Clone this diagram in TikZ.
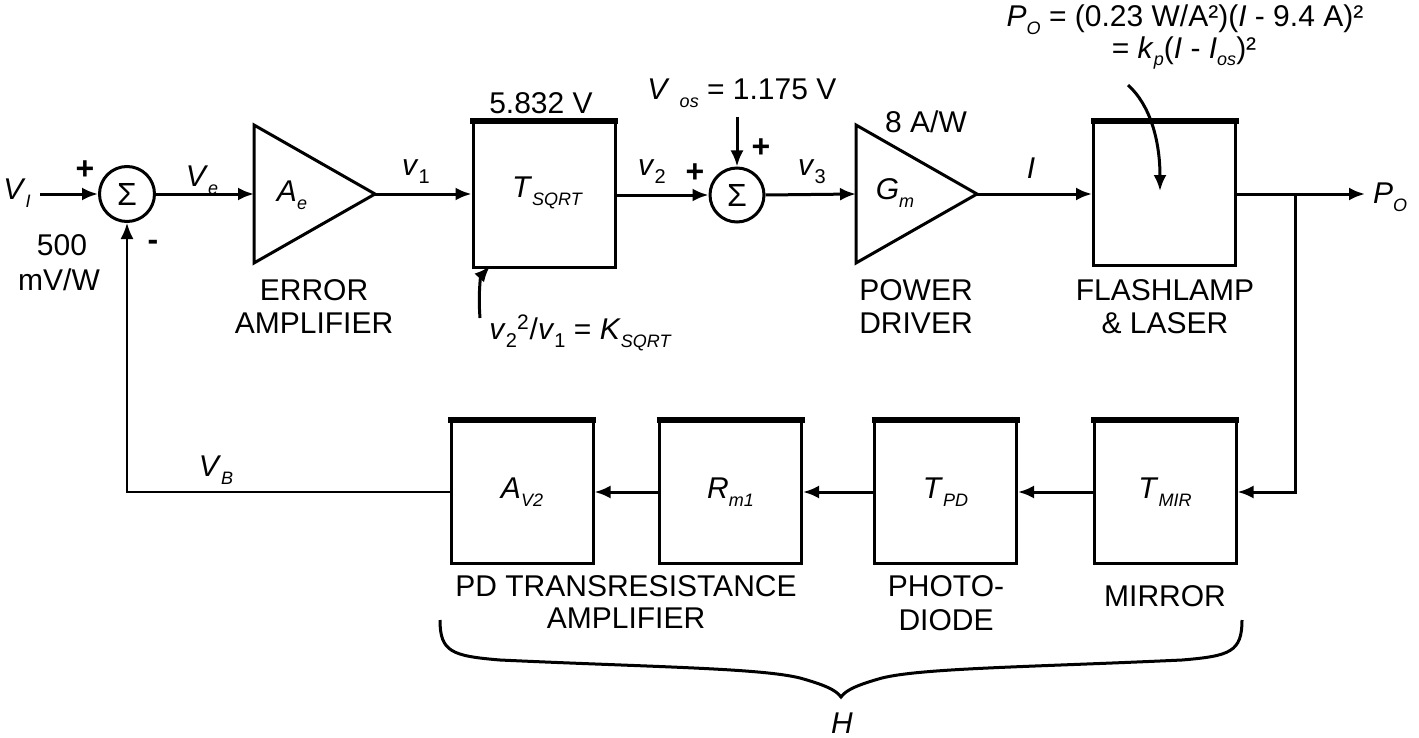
\documentclass[tikz,border=0pt]{standalone}
\usepackage{fontspec}
\setmainfont{Liberation Sans}
\usetikzlibrary{arrows.meta,calc}
\newcommand{\sbs}[1]{\raisebox{-0.5ex}{\fontsize{9}{9}\selectfont\itshape #1}}
\newcommand{\sbr}[1]{\raisebox{-0.5ex}{\fontsize{10}{10}\selectfont #1}}
\newcommand{\iv}[1]{\textit{#1}}
\newcommand{\topedge}[1]{\draw[topline] (#1.north west) -- (#1.north east);}
\begin{document}
\begin{tikzpicture}[x=0.5pt,y=-0.5pt,
  every node/.style={font=\fontsize{15}{18}\selectfont, inner sep=0pt},
  conn/.style={line width=1.5pt},
  thinconn/.style={line width=1pt},
  arr/.style={-{Latex[length=8pt,width=6.5pt]}},
  blockbox/.style={draw, line width=1.5pt, minimum width=71pt, minimum height=71pt},
  topline/.style={line width=3pt, shorten <=-0.75pt, shorten >=-0.75pt},
  sumc/.style={draw, circle, line width=1.5pt, minimum size=27.5pt, font=\fontsize{16}{16}\selectfont},
  amp/.style={line width=1.5pt, line join=miter},
  sign/.style={font=\fontsize{16}{16}\selectfont\bfseries},
  lab/.style={align=center}]
\useasboundingbox (0,0) rectangle (1419,738);

% ---------- forward path ----------
\node (vi) at (17,193) {\iv{V}\sbs{I}};
\coordinate (viend) at (40,194);
\node[sumc] (s1) at (127,194) {Σ};
\node[sign] (s1p) at (85,170) {+};
\node[sign] (s1m) at (153,245) {-};
\node (k500) at (62,245) {500};
\node (kmvw) at (59,280) {mV/W};

% error amplifier
\coordinate (eat) at (254,125);
\coordinate (eab) at (254,263);
\coordinate (eaout) at (375,194);
\coordinate (eain) at (254,194);
\draw[amp] (eat) -- (eaout) -- (eab) -- cycle;
\node (ael) at (292,195) {\iv{A}\sbs{e}};
\node (ve) at (202,180) {\iv{V}\sbs{e}};
\node (eal1) at (314,290) {ERROR};
\node (eal2) at (314,323) {AMPLIFIER};

% sqrt block
\node[blockbox, minimum height=72pt] (tsq) at (544,195) {};
\topedge{tsq}
\node (tsql) at (547,193) {\iv{T}\sbs{SQRT}};
\node (v1) at (416,172) {\iv{v}\sbr{1}};
\node (k5832) at (541,103) {5.832 V};
\node (ksq) at (580,333) {\iv{v}\sbr{2}\textsuperscript{2}/\iv{v}\sbr{1} = \iv{K}\sbs{SQRT}};
\coordinate (ksqa) at (480,318);
\coordinate (ksqb) at (490,266);

% second summer
\node[sumc, minimum size=27pt] (s2) at (737,195) {Σ};
\node (v2) at (652,172) {\iv{v}\sbr{2}};
\node[sign] (s2p) at (695,173) {+};
\node[sign] (s2q) at (761,148) {+};
\node[anchor=west] (vos) at (647,93) {\iv{V}\,\,\sbs{os} = 1.175 V};
\coordinate (vosa) at (737,117);
\node (v3) at (812,172) {\iv{v}\sbr{3}};

% power driver
\coordinate (gmt) at (856,125);
\coordinate (gmb) at (856,263);
\coordinate (gmout) at (977,194);
\coordinate (gmin) at (856,194);
\draw[amp] (gmt) -- (gmout) -- (gmb) -- cycle;
\node (gml) at (895,193) {\iv{G}\sbs{m}};
\node (k8aw) at (926,122) {8 A/W};
\node (pdl1) at (916,290) {POWER};
\node (pdl2) at (916,323) {DRIVER};
\node (il) at (1031,168) {\iv{I}};

% flashlamp & laser
\node[blockbox] (las) at (1164.5,194) {};
\topedge{las}
\node (lasl1) at (1165,290) {FLASHLAMP};
\node (lasl2) at (1165,323) {\& LASER};
\node (pof1) at (1185,20) {\iv{P}\sbs{O} = (0.23 W/A²)(\iv{I} - 9.4 A)²};
\node (pof2) at (1184,53) {= \iv{k}\sbs{p}(\iv{I} - \iv{I}\sbs{os})²};
\coordinate (pfa) at (1128,85);
\coordinate (pfb) at (1160,191);

\coordinate (jn) at (1295,194);
\coordinate (po) at (1365,194);
\node (pol) at (1390,197) {\iv{P}\sbs{O}};

% ---------- feedback path ----------
\node[blockbox] (mir) at (1165,492) {};
\topedge{mir}
\node (mirl) at (1165,492) {\iv{T}\sbs{MIR}};
\node (mirt) at (1165,596) {MIRROR};

\node[blockbox] (tpd) at (945.5,492) {};
\topedge{tpd}
\node (tpdl) at (945.5,492) {\iv{T}\sbs{PD}};
\node (tpdt1) at (946,586) {PHOTO-};
\node (tpdt2) at (946,620) {DIODE};

\node[blockbox] (rm) at (730.5,492) {};
\topedge{rm}
\node (rml) at (730.5,492) {\iv{R}\sbs{m1}};

\node[blockbox] (av) at (522,492) {};
\topedge{av}
\node (avl) at (522,492) {\iv{A}\sbs{V2}};
\node (avt1) at (626,586) {PD TRANSRESISTANCE};
\node (avt2) at (626,618) {AMPLIFIER};

\node (vb) at (216,470) {\iv{V}\sbs{B}};
\node (hl) at (842,723) {\iv{H}};

% ---------- connectors ----------
\draw[conn,arr] (viend) -- (s1.west);
\draw[conn,arr] (s1.east) -- (eain);
\draw[conn,arr] (eaout) -- (tsq.west |- eaout);
\draw[conn,arr] (tsq.east |- s2) -- (s2.west);
\draw[conn,arr] (vosa) -- (s2.north);
\draw[conn,arr] (s2.east) -- (gmin);
\draw[conn,arr] (gmout) -- (las.west);
\draw[conn,arr] (las.east) -- (po);
\draw[conn,arr] (jn) |- (mir.east);
\draw[conn,arr] (mir.west) -- (tpd.east);
\draw[conn,arr] (tpd.west) -- (rm.east);
\draw[conn,arr] (rm.west) -- (av.east);
\draw[thinconn,arr] (av.west) -| (s1.south);
\draw[conn,arr] (ksqa) .. controls (478,292) and (481,276) .. (ksqb);
\draw[conn,arr] (pfa) .. controls (1150,105) and (1160,140) .. (pfb);

% ---------- brace ----------
\coordinate (brl) at (440,620);
\coordinate (brt) at (841,697);
\coordinate (brr) at (1242,620);
\draw[line width=1.5pt] (brl) .. controls (440,652) and (452,656) .. (500,660)
  .. controls (650,667) and (760,668) .. (800,678)
  .. controls (825,685) and (836,690) .. (brt)
  .. controls (846,690) and (857,685) .. (882,678)
  .. controls (922,668) and (1032,667) .. (1182,660)
  .. controls (1230,656) and (1242,652) .. (brr);
\end{tikzpicture}
\end{document}
